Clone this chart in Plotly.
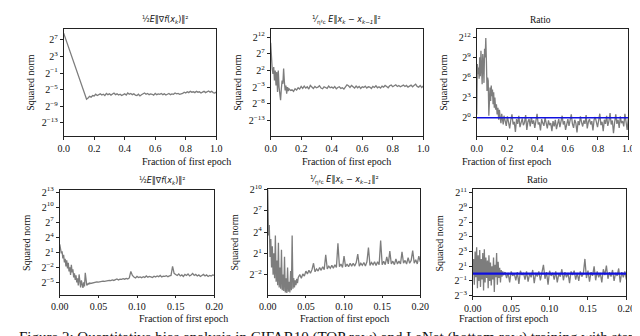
import numpy as np
import plotly.graph_objects as go

W, H = 640, 336

# ---- data (log2 of the squared norm) ----
# top row: CIFAR10, x = fraction of first epoch (0..1)
GRAD_TOP_HEAD_X = [0.0, 0.15]
GRAD_TOP = [8.6, -7.3,
            -7.0, -6.6, -6.8, -6.4, -6.5, -6.1, -6.4, -6.2, -6.0, -6.3,
            -6.1, -6.4, -5.9, -6.2, -6.0, -6.3, -6.1, -5.8, -6.2, -6.0,
            -6.3, -6.1, -6.4, -6.2, -6.0, -6.3, -5.8, -6.1, -5.9, -6.2,
            -6.0, -6.3, -6.4, -6.1, -6.5, -6.2, -6.0, -5.8, -6.1, -5.9,
            -6.2, -6.0, -6.1, -6.3, -5.9, -6.2, -6.0, -6.1, -5.9, -6.2,
            -6.0, -6.3, -6.1, -5.9, -6.2, -6.0, -6.1, -5.8, -6.0, -5.9,
            -6.1, -6.0, -5.9, -5.6, -5.8, -5.5, -5.7, -5.4, -5.6, -5.5,
            -5.7, -5.4, -5.6, -5.5, -5.8, -5.6, -5.4, -5.7, -5.5, -5.3,
            -5.6, -5.4, -5.7, -5.8, -5.6]

STEP_TOP_HEAD_X = [0.000, 0.003, 0.007, 0.010, 0.015, 0.020, 0.025, 0.030, 0.035,
                   0.040, 0.045, 0.050, 0.055, 0.060, 0.065, 0.070, 0.075, 0.080,
                   0.085, 0.090, 0.095, 0.100, 0.105, 0.110, 0.115, 0.120, 0.130,
                   0.140, 0.150, 0.160, 0.170, 0.180, 0.190, 0.200]
STEP_TOP = [10.3, 6.0, 3.5, 2.5, 1.0, 3.0, -1.0, 2.0, -2.5, 1.5, -4.5, 2.0, -3.0,
            -5.5, -6.9, -3.5, -1.0, -2.0, 2.6, -1.5, -4.0, -2.5, -5.0, -3.0, -4.2,
            -3.5, -4.0, -3.8, -4.3, -3.5, -3.9, -3.2, -3.6, -2.8,
            -3.4, -2.7, -3.3, -2.9, -3.6, -2.5, -3.1, -3.4, -2.8, -3.2,
            -3.0, -2.6, -3.3, -3.5, -2.9, -3.1, -3.4, -2.7, -3.2, -3.0,
            -3.3, -2.8, -3.5, -3.1, -2.9, -3.4, -3.2, -3.6, -3.0, -2.3,
            -2.6, -3.1, -2.5, -2.9, -3.3, -2.7, -3.2, -2.8, -3.4, -2.9,
            -3.1, -2.7, -3.3, -2.9, -3.0, -3.4, -2.8, -3.1, -2.6, -3.2,
            -2.9, -3.3, -2.7, -3.0, -2.5, -2.8, -3.2, -2.6, -2.4, -2.9,
            -2.6, -2.3, -2.8, -2.5, -2.9, -2.6, -2.4, -2.8, -2.5, -3.0,
            -2.7, -2.4, -2.9, -2.6, -2.1, -2.8, -3.0, -2.5, -3.1, -2.7]

RATIO_TOP_HEAD_X = [0.000, 0.004, 0.008, 0.012, 0.016, 0.020, 0.024, 0.028, 0.032,
                    0.036, 0.040, 0.044, 0.048, 0.052, 0.056, 0.060, 0.064, 0.068,
                    0.072, 0.076, 0.080, 0.084, 0.088, 0.092, 0.096, 0.100, 0.104,
                    0.108, 0.112, 0.116, 0.120, 0.125, 0.130, 0.135, 0.140, 0.145,
                    0.150, 0.155, 0.160, 0.165, 0.170, 0.175, 0.180]
RATIO_TOP = [0.5, 8.0, 6.5, 7.5, 5.8, 9.0, 6.2, 10.0, 7.0, 5.0, 9.5, 8.2, 5.2,
             10.3, 9.0, 11.9, 8.5, 4.0, 6.0, 5.5, 0.3, 3.0, 4.5, 2.5, 4.8, 3.2,
             4.2, 2.0, 3.8, 1.5, 3.0, 1.2, 2.0, 0.5, 1.5, -0.3, 1.2, 0.0, -0.8,
             0.6, -0.2, -1.0, 0.3,
             -0.4, -1.2, 0.2, -0.8, -1.6, -0.3, 0.5, -1.0, -0.6, -2.1,
             -0.2, -0.9, 0.3, -1.4, -0.5, -0.1, -1.1, -0.7, 0.4, -1.8,
             -0.6, -0.2, -1.3, 0.1, -0.9, -0.4, -1.5, -0.3, 0.6, -1.0,
             -0.7, -1.9, -0.2, -0.8, -1.2, 0.0, -0.6, -1.6, -0.4, -1.1,
             -0.8, -2.0, -0.5, -1.3, -0.3, -1.7, -0.9, -0.2, -1.4, -0.6,
             0.3, -1.0, -0.5, -1.8, -0.7, -0.2, -1.2, -0.4, 0.5, -0.9,
             -1.5, -0.3, -0.8, -2.2, -0.5, -1.1, 0.2, -0.7, -1.3, -0.4,
             -0.9, 0.4, -1.6, -0.6, -0.2, -1.0, -0.5, -1.9, -0.3, 0.1,
             -0.8, -1.4, -0.4, 0.6, -1.1, -0.6, -2.0, -0.3, -0.9, 0.3,
             -1.2, -0.5, 0.7, -1.0, -0.4, -2.3, -0.7, 0.5, -0.9, -0.3,
             -1.5, 0.2, -0.8, -0.5, -1.3, 0.6, -0.6, -1.8, -0.2]

# bottom row: LeNet, x = fraction of first epoch (0..0.2)
GRAD_BOT = [2.6, 1.5, 0.8, 1.2, -0.2, 0.5, -1.0, -0.3, -1.8, -0.6,
            -2.2, -1.1, -2.8, -2.0, -3.5, -1.5, -3.0, -2.4, -4.0, -3.2,
            -4.5, -3.6, -5.0, -4.2, -5.6, -3.4, -5.2, -6.0, -4.6, -5.4,
            -6.1, -5.0, -5.8, -3.1, -4.8, -5.6, -5.4, -5.2, -5.3, -5.1, -5.2,
            -5.1, -5.0, -5.05, -4.9, -4.95, -4.85, -4.9, -4.75, -4.8, -4.7,
            -4.75, -4.6, -4.65, -4.5, -4.6, -4.45, -4.3, -4.5, -4.35, -4.4,
            -4.25, -4.35, -4.2, -4.3, -4.1, -2.8, -3.6, -3.9, -4.1, -3.8,
            -4.0, -3.9, -4.05, -3.85, -4.0, -3.7, -3.95, -3.8, -3.9, -4.0,
            -3.75, -3.9, -3.7, -3.85, -3.6, -3.9, -3.75, -3.8, -3.65, -3.85,
            -3.7, -3.6, -1.8, -3.2, -3.4, -3.6, -3.3, -3.7, -3.5, -3.8,
            -3.4, -3.6, -3.3, -3.7, -3.5, -3.2, -3.6, -3.4, -3.7, -3.5,
            -3.8, -3.6, -3.4, -3.7, -3.5, -3.8, -3.6, -3.7, -3.5, -3.6]

STEP_BOT = [10.0, 3.5, 5.0, 0.5, 3.0, -1.0, 2.0, -2.0, 1.0, -2.5,
            3.5, -3.0, 0.0, -3.5, 2.5, -3.8, -1.0, -4.0, 1.5, -4.2,
            -2.0, -4.3, 0.5, -4.5, -2.5, -4.6, -1.0, -4.4, -3.0, -4.5,
            -1.5, -4.2, 3.5, -4.0, -2.5, -3.8, -2.8, -3.5, -2.6, -3.2, -2.4,
            -2.0, -2.5, -1.9, -2.2, -1.5, -1.9, -1.4, -1.8, -1.3, -0.4,
            -1.6, -1.2, -1.5, -1.0, -1.4, -0.9, -1.3, 0.8, -1.2, -0.8,
            -1.1, -0.7, -1.1, -0.6, -1.0, 2.4, -0.9, -0.5, -1.0, 0.6,
            -0.9, -0.5, -0.9, -0.4, -0.8, -0.4, -0.8, -0.3, 0.9, -0.8,
            -0.4, -0.7, -0.3, -0.8, -0.2, 1.8, -0.7, -0.3, -0.6, -0.2,
            -0.7, -0.2, -0.6, 2.8, -0.6, -0.1, -0.6, 0.5, -0.5, 1.3,
            -0.5, -0.1, -0.6, 0.2, -0.5, -0.1, -0.5, 1.2, -0.4, 0.0,
            -0.5, 0.4, -0.4, 0.0, 1.4, -0.4, 0.1, -0.5, 0.6, -0.2]

RATIO_BOT = [0.0, 2.0, -1.5, 3.0, -0.5, 3.6, -2.0, 2.5, -1.0, 3.2,
             -1.8, 2.0, -0.8, 2.8, -2.3, 3.3, -1.2, 2.2, -0.6, 1.8,
             -2.0, 2.5, -1.0, 1.5, -1.6, 1.0, -0.8, 2.2, -2.5, 1.2,
             -0.5, 2.8, -1.5, 1.6, -0.6, 0.8, -1.2, 0.5, -0.4, 0.3, -0.2,
             0.2, -0.6, 0.1, -1.2, 0.3, -0.3, 0.0, -0.9, 0.2, -1.4,
             0.4, -0.2, 0.1, -0.8, 0.3, -1.1, 0.0, -0.5, 0.5, -1.3,
             0.1, -0.4, 0.3, -0.9, 0.0, 1.2, -0.7, 0.2, -1.5, 0.4,
             -0.3, 0.1, -0.8, 0.3, -1.2, 0.0, -0.4, 0.6, -0.9, 0.2,
             -0.5, 0.1, -1.3, 0.3, -0.2, 0.4, -0.8, 0.1, -1.0, 0.3,
             -0.4, 0.0, 2.0, -0.6, 0.4, -1.1, 0.2, -0.3, 1.0, -0.9,
             0.3, -0.5, 0.1, -1.2, 0.6, -0.2, 1.1, -0.7, 0.2, -0.4,
             0.5, -1.0, 0.1, -0.3, 0.7, -1.2, 0.2, -0.5, 0.3, -0.8]

TOP_XTICKS = [0.0, 0.2, 0.4, 0.6, 0.8, 1.0]
BOT_XTICKS = [0.00, 0.05, 0.10, 0.15, 0.20]

TITLE_GRAD = "½<i>E</i>‖∇<i>f</i>(<i>x<sub>k</sub></i>)‖²"
TITLE_STEP = "<sup>1</sup>⁄<sub>η²c</sub> <i>E</i>‖<i>x<sub>k</sub></i> − <i>x<sub>k−1</sub></i>‖²"
CAPTION = ("Figure 2: Quantitative bias analysis in CIFAR10 (TOP row) and LeNet "
           "(bottom row) training with step-size 0.01")


def head_tail_x(head_x, n, end):
    # explicit x for the first samples, evenly spaced samples for the rest
    step = (end - head_x[-1]) / (n - len(head_x))
    tail = [head_x[-1] + step * (i + 1) for i in range(n - len(head_x))]
    return list(head_x) + tail


def bottom_x(vals):
    # first 41 samples every 0.001, the rest every 0.002
    x = [0.001 * i for i in range(41)]
    x += [0.04 + 0.002 * (i + 1) for i in range(len(vals) - 41)]
    return x


def exp_ticks(lo, hi, step):
    vals = list(range(lo, hi + 1, step))
    text = ["2<sup>" + str(v).replace("-", "−") + "</sup>" for v in vals]
    return vals, text


# panel geometry in pixels: left, right, top, bottom, y-range, tick exponents
PANELS = [
    dict(l=48, r=205, t=15, b=126, yr=[-16.1, 9.7], ticks=(-13, 7, 4), xr=[0, 1], xt=TOP_XTICKS, fmt="%.1f"),
    dict(l=261, r=418, t=15, b=126, yr=[-17.65, 14.6], ticks=(-13, 12, 5), xr=[0, 1], xt=TOP_XTICKS, fmt="%.1f"),
    dict(l=473, r=629, t=15, b=126, yr=[-2.7, 13.3], ticks=(0, 12, 3), xr=[0, 1], xt=TOP_XTICKS, fmt="%.1f"),
    dict(l=44, r=203, t=182, b=290, yr=[-7.4, 13.4], ticks=(-5, 13, 3), xr=[0, 0.2], xt=BOT_XTICKS, fmt="%.2f"),
    dict(l=258, r=415, t=181, b=290, yr=[-4.8, 10.05], ticks=(-2, 10, 3), xr=[0, 0.2], xt=BOT_XTICKS, fmt="%.2f"),
    dict(l=469, r=627, t=181, b=292, yr=[-3.1, 11.5], ticks=(-3, 11, 2), xr=[0, 0.2], xt=BOT_XTICKS, fmt="%.2f"),
]

SERIES = [
    (head_tail_x(GRAD_TOP_HEAD_X, len(GRAD_TOP), 1.0), GRAD_TOP),
    (head_tail_x(STEP_TOP_HEAD_X, len(STEP_TOP), 1.0), STEP_TOP),
    (head_tail_x(RATIO_TOP_HEAD_X, len(RATIO_TOP), 1.0), RATIO_TOP),
    (bottom_x(GRAD_BOT), GRAD_BOT),
    (bottom_x(STEP_BOT), STEP_BOT),
    (bottom_x(RATIO_BOT), RATIO_BOT),
]
TITLES = [TITLE_GRAD, TITLE_STEP, "Ratio", TITLE_GRAD, TITLE_STEP, "Ratio"]

SERIF = "Liberation Serif"
GREY = "#7d7d7d"

fig = go.Figure()
layout = dict(width=W, height=H, margin=dict(l=0, r=0, t=0, b=0),
              paper_bgcolor="white", plot_bgcolor="white", showlegend=False,
              annotations=[])

for i, (p, (xs, ys), title) in enumerate(zip(PANELS, SERIES, TITLES), start=1):
    xa, ya = "x" if i == 1 else f"x{i}", "y" if i == 1 else f"y{i}"
    fig.add_trace(go.Scatter(x=xs, y=ys, xaxis=xa, yaxis=ya, mode="lines",
                             line=dict(color=GREY, width=1.3)))
    if title == "Ratio":
        # reference line at ratio = 2^0
        fig.add_trace(go.Scatter(x=p["xr"], y=[0, 0], xaxis=xa, yaxis=ya, mode="lines",
                                 line=dict(color="#1010e0", width=1.4 if i == 3 else 2.2)))

    tv, tt = exp_ticks(*p["ticks"])
    common = dict(showline=True, mirror=True, linecolor="#222", linewidth=0.8,
                  ticks="outside", ticklen=3, tickwidth=0.8, tickcolor="#222",
                  showgrid=False, zeroline=False,
                  tickfont=dict(family=SERIF, size=10, color="#111"))
    layout["xaxis" + ("" if i == 1 else str(i))] = dict(
        domain=[p["l"] / W, p["r"] / W], range=p["xr"], anchor=ya,
        tickvals=p["xt"], ticktext=[p["fmt"] % v for v in p["xt"]], **common)
    layout["yaxis" + ("" if i == 1 else str(i))] = dict(
        domain=[1 - p["b"] / H, 1 - p["t"] / H], range=p["yr"], anchor=xa,
        tickvals=tv, ticktext=tt, **common)

    cx = (p["l"] + p["r"]) / 2 / W
    top_row = i <= 3
    layout["annotations"] += [
        dict(text=title, x=cx, y=1 - (p["t"] - 9) / H, xref="paper", yref="paper",
             showarrow=False, yanchor="middle",
             font=dict(family=SERIF if title == "Ratio" else "DejaVu Sans",
                       size=9.5 if title == "Ratio" else 8, color="#111")),
        dict(text="Fraction of first epoch", x=cx, y=1 - (152 if top_row else 315) / H,
             xref="paper", yref="paper", showarrow=False, yanchor="middle",
             font=dict(family=SERIF, size=10, color="#111")),
        dict(text="Squared norm", x=(p["l"] - 34) / W, y=1 - (p["t"] + p["b"]) / 2 / H,
             xref="paper", yref="paper", showarrow=False, textangle=-90,
             xanchor="center", yanchor="middle",
             font=dict(family=SERIF, size=10, color="#111")),
    ]

layout["annotations"].append(
    dict(text=CAPTION, x=0, y=1 - 324 / H, xref="paper", yref="paper",
         showarrow=False, xanchor="left", yanchor="top",
         font=dict(family=SERIF, size=15, color="#111")))

fig.update_layout(**layout)
fig.write_html("out.html")
